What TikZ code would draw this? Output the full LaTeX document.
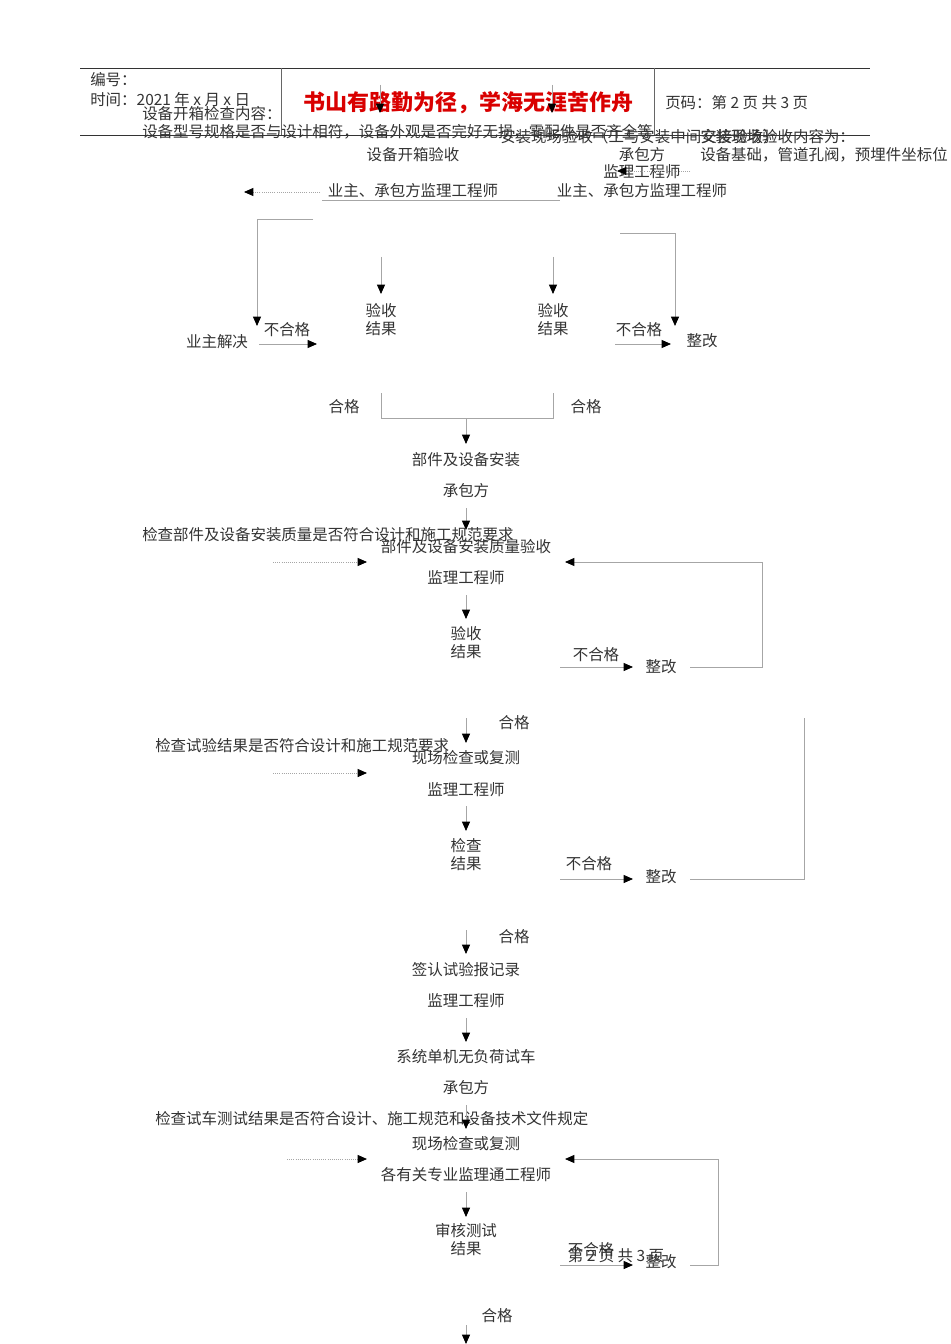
\documentclass[tikz,border=0pt]{standalone}
\usepackage{fontspec}
\setmainfont{Liberation Serif}
\newfontfamily\cjk{Noto Sans CJK SC}
\usetikzlibrary{arrows.meta}
\begin{document}
\begin{tikzpicture}[x=0.75pt,y=-0.75pt,
  every node/.style={font=\cjk\fontsize{11.6}{13}\selectfont,inner sep=0pt,text=black!80},
  lbl/.style={anchor=west},
  two/.style={align=center,font=\cjk\fontsize{11.6}{13.5}\selectfont},
  conn/.style={draw=black!35,line width=0.6pt},
  arr/.style={conn,-{Triangle[length=7pt,width=6pt,fill=black,color=black]}},
  dot/.style={arr,densely dotted}]
\useasboundingbox[fill=white] (0,0) rectangle (950,1344);
% header
\draw[black!80,line width=0.7pt] (80,68) -- (870,68) (80,135) -- (870,135);
\draw[black!60,line width=0.6pt] (281,68) -- (281,135) (654,68) -- (654,135);
\node[lbl] (bh) at (90,80) {编号：};
\node[lbl] (sj) at (90,100) {时间：2021 年 x 月 x 日};
\node[font=\cjk\bfseries\fontsize{16.5}{18}\selectfont,text=red!85!black] (title) at (468,103) {书山有路勤为径，学海无涯苦作舟};
\node[lbl] (ym) at (665,103) {页码：第 2 页 共 3 页};
\node[lbl] (c1) at (142,114) {设备开箱检查内容：};
\node[lbl] (c2) at (142,132) {设备型号规格是否与设计相符，设备外观是否完好无损，零配件是否齐全等};
\coordinate (t1) at (380,85); \coordinate (t2) at (552,85);
\draw[arr] (t1) -- (380,113);
\draw[arr] (t2) -- (552,113);
\node[lbl] (az) at (500,137) {安装现场验收（工与安装中间交接验收）};
\node[lbl] (az2) at (700,137) {安装现场验收内容为：};
\node (kx) at (413,155) {设备开箱验收};
\node (cb0) at (642,155) {承包方};
\node[lbl] (jc) at (700,155) {设备基础，管道孔阀，预埋件坐标位};
\node (jl0) at (642,172) {监理工程师};
\coordinate (d0) at (690,171);
\draw[dot] (d0) -- (617,171);
\node (yz1) at (413,191) {业主、承包方监理工程师};
\node (yz2) at (642,191) {业主、承包方监理工程师};
\coordinate (d1) at (320,192);
\draw[dot] (d1) -- (244,192);
\draw[conn] (322,200) -- (560,200);
% first loops
\draw[arr] (313,219) -- (257,219) -- (257,326);
\draw[arr] (620,233) -- (675,233) -- (675,326);
\draw[arr] (381,257) -- (381,294);
\draw[arr] (553,257) -- (553,294);
\node[two] (r1) at (381,320) {验收\\结果};
\node[two] (r2) at (553,320) {验收\\结果};
\node (yzj) at (217,342) {业主解决};
\node (bh1) at (287,330) {不合格};
\draw[arr] (259,344) -- (317,344);
\node (bh2) at (639,330) {不合格};
\node (zg1) at (702,341) {整改};
\draw[arr] (615,344) -- (671,344);
\node (hg1) at (344,407) {合格};
\node (hg2) at (586,407) {合格};
\draw[conn] (381,393) -- (381,418) -- (553,418) -- (553,393);
\draw[arr] (466,418) -- (466,444);
% second section
\node (bj) at (466,460) {部件及设备安装};
\node (cb1) at (466,491) {承包方};
\draw[arr] (466,508) -- (466,530);
\node[lbl] (jc1) at (142,535) {检查部件及设备安装质量是否符合设计和施工规范要求};
\node (ys) at (466,547) {部件及设备安装质量验收};
\draw[dot] (273,562) -- (367,562);
\node (jl1) at (466,578) {监理工程师};
\draw[arr] (466,595) -- (466,619);
\node[two] (r3) at (466,643) {验收\\结果};
\node (bh3) at (596,655) {不合格};
\draw[arr] (560,667) -- (633,667);
\node (zg2) at (661,667) {整改};
\draw[arr] (690,667) -- (762,667) -- (762,562) -- (565,562);
\node (hg3) at (514,723) {合格};
\draw[arr] (466,718) -- (466,743);
\node[lbl] (jc2) at (155,746) {检查试验结果是否符合设计和施工规范要求};
\node (xc1) at (466,758) {现场检查或复测};
\draw[dot] (273,773) -- (367,773);
\node (jl2) at (466,790) {监理工程师};
\draw[arr] (466,806) -- (466,831);
\node[two] (r4) at (466,855) {检查\\结果};
\node (bh4) at (589,864) {不合格};
\draw[arr] (560,879) -- (633,879);
\node (zg3) at (661,877) {整改};
\draw[conn] (690,879) -- (804,879) -- (804,718);
\node (hg4) at (514,937) {合格};
\draw[arr] (466,930) -- (466,954);
\node (qr) at (466,970) {签认试验报记录};
\node (jl3) at (466,1001) {监理工程师};
\draw[arr] (466,1018) -- (466,1042);
\node (xt) at (466,1057) {系统单机无负荷试车};
\node (cb2) at (466,1088) {承包方};
\node[lbl] (jc3) at (155,1119) {检查试车测试结果是否符合设计、施工规范和设备技术文件规定};
\draw[arr] (466,1105) -- (466,1129);
\node (xc2) at (466,1144) {现场检查或复测};
\draw[dot] (287,1159) -- (367,1159);
\node (gy) at (466,1175) {各有关专业监理通工程师};
\draw[arr] (466,1192) -- (466,1217);
\node[two] (r5) at (466,1240) {审核测试\\结果};
\node (bh5) at (591,1250) {不合格};
\node (pg) at (616,1256) {第 2 页 共 3 页};
\draw[arr] (560,1265) -- (633,1265);
\node (zg4) at (661,1262) {整改};
\draw[arr] (690,1265) -- (718,1265) -- (718,1159) -- (565,1159);
\node (hg5) at (497,1316) {合格};
\draw[arr] (466,1325) -- (466,1344);
\end{tikzpicture}
\end{document}
